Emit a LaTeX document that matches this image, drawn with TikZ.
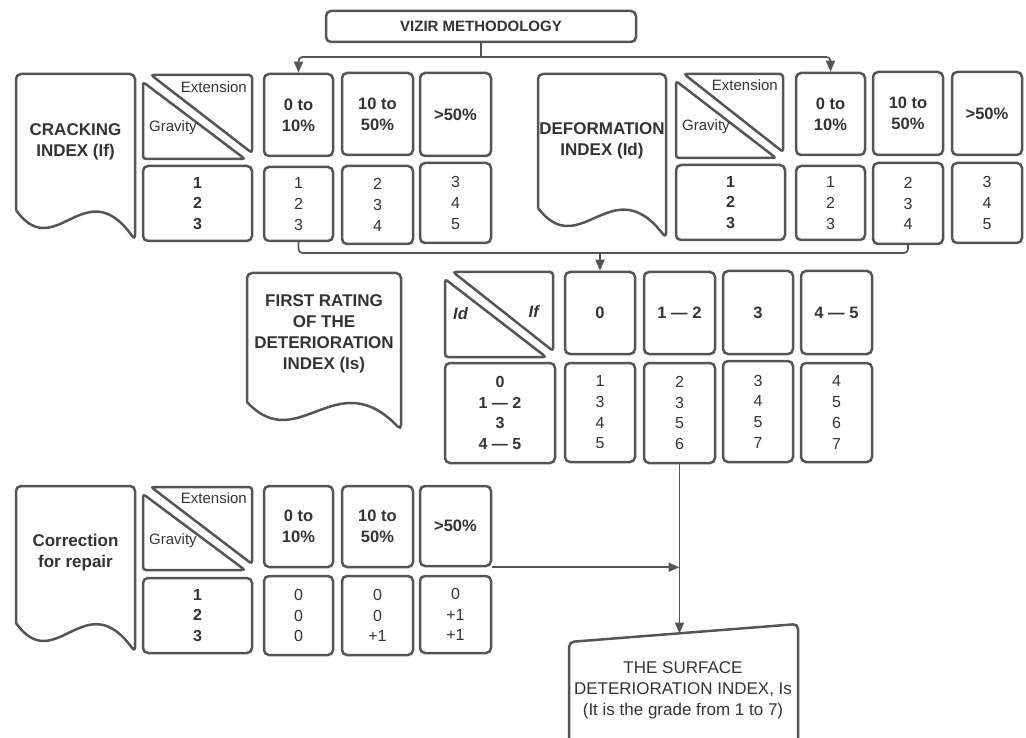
\documentclass[tikz,border=0pt]{standalone}
\usepackage{fontspec}
\setmainfont{Liberation Sans}
\usetikzlibrary{arrows.meta}
\definecolor{ln}{HTML}{555555}
\definecolor{tx}{HTML}{333333}
\tikzset{
 cell/.style={draw=ln, line width=2.5pt, rounded corners=5pt, inner sep=0pt, text=tx, align=center},
 hdr/.style={font=\fontsize{16.5}{21}\selectfont\bfseries},
 num/.style={font=\fontsize{16}{20.7}\selectfont},
 bnum/.style={font=\fontsize{16}{20.7}\selectfont\bfseries},
 lbl/.style={text=tx, inner sep=0pt, font=\fontsize{15}{18}\selectfont},
 idlbl/.style={text=tx, inner sep=0pt, font=\fontsize{16.5}{20}\selectfont\bfseries\itshape},
 doctext/.style={text=tx, align=center, inner sep=0pt, font=\fontsize{17}{21}\selectfont\bfseries},
 surftext/.style={text=tx, align=center, inner sep=0pt, font=\fontsize{17}{21}\selectfont},
 conn/.style={draw=ln, line width=1.7pt, rounded corners=4pt},
 arr/.style={conn, -{Triangle[length=11pt,width=9pt]}},
 docline/.style={draw=ln, line width=2.5pt, rounded corners=5pt},
 triline/.style={draw=ln, line width=2.5pt, rounded corners=3pt},
}
\newcommand\mycell[7]{%
 \pgfmathsetmacro\mycx{(#2+#4)/2}\pgfmathsetmacro\mycy{(#3+#5)/2}%
 \pgfmathsetmacro\myw{#4-#2}\pgfmathsetmacro\myh{#5-#3}%
 \node[cell,#6,minimum width=\myw pt,minimum height=\myh pt] (#1) at (\mycx,\mycy) {#7};}
\newcommand\mydiag[4]{%
 \draw[triline] (#1+8,#2) -- (#3,#2) -- (#3,#4-6) -- cycle;
 \draw[triline] (#1,#2+7) -- (#1,#4) -- (#3-7,#4) -- cycle;}
\begin{document}
\begin{tikzpicture}[x=1pt,y=-1pt]
\useasboundingbox (0,0) rectangle (1026,738);

% title
\mycell{title}{326}{11}{636}{42}{font=\fontsize{15}{18}\selectfont\bfseries}{VIZIR METHODOLOGY}

% ---------- cracking ----------
\draw[docline] (16,210) -- (16,74) -- (135,74) -- (135,240) .. controls (85,170) and (55,265) .. (16,210);
\node[doctext] (ctext) at (75.5,142) {CRACKING\\INDEX (If)};
\mydiag{143}{75}{252}{159}
\node[lbl, anchor=east] (cext) at (247,87) {Extension};
\node[lbl, anchor=west] (cgrav) at (149,128) {Gravity};
\mycell{c1h}{264}{74}{333}{156}{hdr}{0 to\\10\%}
\mycell{c2h}{342}{73}{413}{155}{hdr}{10 to\\50\%}
\mycell{c3h}{420}{73}{491}{156}{hdr}{>50\%}
\mycell{c0r}{143}{166}{252}{241}{bnum}{1\\2\\3}
\mycell{c1r}{264}{167}{333}{241}{num}{1\\2\\3}
\mycell{c2r}{342}{166}{413}{244}{num}{2\\3\\4}
\mycell{c3r}{420}{163}{491}{243}{num}{3\\4\\5}

% ---------- deformation ----------
\draw[docline] (538,208) -- (538,74) -- (666,74) -- (666,238) .. controls (612,168) and (580,263) .. (538,208);
\node[doctext] (dtext) at (602,141) {DEFORMATION\\INDEX (Id)};
\mydiag{676}{74}{783}{158}
\node[lbl, anchor=east] (dext) at (778,85) {Extension};
\node[lbl, anchor=west] (dgrav) at (682,127) {Gravity};
\mycell{d1h}{796}{73}{865}{155}{hdr}{0 to\\10\%}
\mycell{d2h}{873}{72}{943}{155}{hdr}{10 to\\50\%}
\mycell{d3h}{952}{72}{1022}{155}{hdr}{>50\%}
\mycell{d0r}{676}{165}{785}{240}{bnum}{1\\2\\3}
\mycell{d1r}{796}{166}{865}{240}{num}{1\\2\\3}
\mycell{d2r}{873}{163}{943}{244}{num}{2\\3\\4}
\mycell{d3r}{952}{163}{1022}{243}{num}{3\\4\\5}

% ---------- first rating ----------
\draw[docline] (247,402) -- (247,273) -- (401,273) -- (401,430) .. controls (336,362) and (298,457) .. (247,402);
\node[doctext] (ftext) at (324,334) {FIRST RATING\\OF THE\\DETERIORATION\\INDEX (Is)};
\mydiag{445}{272}{553}{357}
\node[idlbl, anchor=west] (fid) at (453,314) {Id};
\node[idlbl, anchor=east] (fif) at (539,312) {If};
\mycell{f1h}{565}{272}{635}{354}{hdr}{0}
\mycell{f2h}{644}{272}{715}{354}{hdr}{1 — 2}
\mycell{f3h}{723}{271}{793}{354}{hdr}{3}
\mycell{f4h}{801}{271}{872}{354}{hdr}{4 — 5}
\mycell{f0r}{445}{363}{555}{463}{bnum}{0\\1 — 2\\3\\4 — 5}
\mycell{f1r}{565}{363}{635}{462}{num}{1\\3\\4\\5}
\mycell{f2r}{644}{363}{715}{463}{num}{2\\3\\5\\6}
\mycell{f3r}{723}{361}{793}{462}{num}{3\\4\\5\\7}
\mycell{f4r}{801}{363}{872}{462}{num}{4\\5\\6\\7}

% ---------- correction ----------
\draw[docline] (16,623) -- (16,486) -- (135,486) -- (135,652) .. controls (85,583) and (55,678) .. (16,623);
\node[doctext] (rtext) at (75.5,553) {Correction\\for repair};
\mydiag{143}{487}{252}{570}
\node[lbl, anchor=east] (rext) at (247,498) {Extension};
\node[lbl, anchor=west] (rgrav) at (149,541) {Gravity};
\mycell{r1h}{264}{486}{333}{567}{hdr}{0 to\\10\%}
\mycell{r2h}{342}{486}{413}{567}{hdr}{10 to\\50\%}
\mycell{r3h}{420}{486}{491}{566}{hdr}{>50\%}
\mycell{r0r}{143}{578}{252}{653}{bnum}{1\\2\\3}
\mycell{r1r}{264}{576}{333}{655}{num}{0\\0\\0}
\mycell{r2r}{342}{576}{413}{655}{num}{0\\0\\+1}
\mycell{r3r}{420}{576}{491}{653}{num}{0\\+1\\+1}

% ---------- surface index ----------
\draw[docline] (569,760) -- (569,642) -- (798,624) -- (798,760);
\node[surftext] (surf) at (683,690) {THE SURFACE\\DETERIORATION INDEX, Is\\(It is the grade from 1 to 7)};
\coordinate (surftop) at (679.5,633.5);

% ---------- connectors ----------
\coordinate (h0) at (481,57);
\draw[conn] (title.south) -- (h0);
\draw[arr] (h0) -| (c1h.north);
\draw[arr] (h0) -| (d1h.north);
\coordinate (h1) at (600,253);
\draw[conn] (c1r.south) |- (h1) -| (d2r.south);
\draw[arr] (h1) -- (f1h.north);
\draw[arr] (f2r.south) -- (surftop);
\draw[arr] (r3h.south east) -- (r3h.south east -| f2r.south);
\end{tikzpicture}
\end{document}
